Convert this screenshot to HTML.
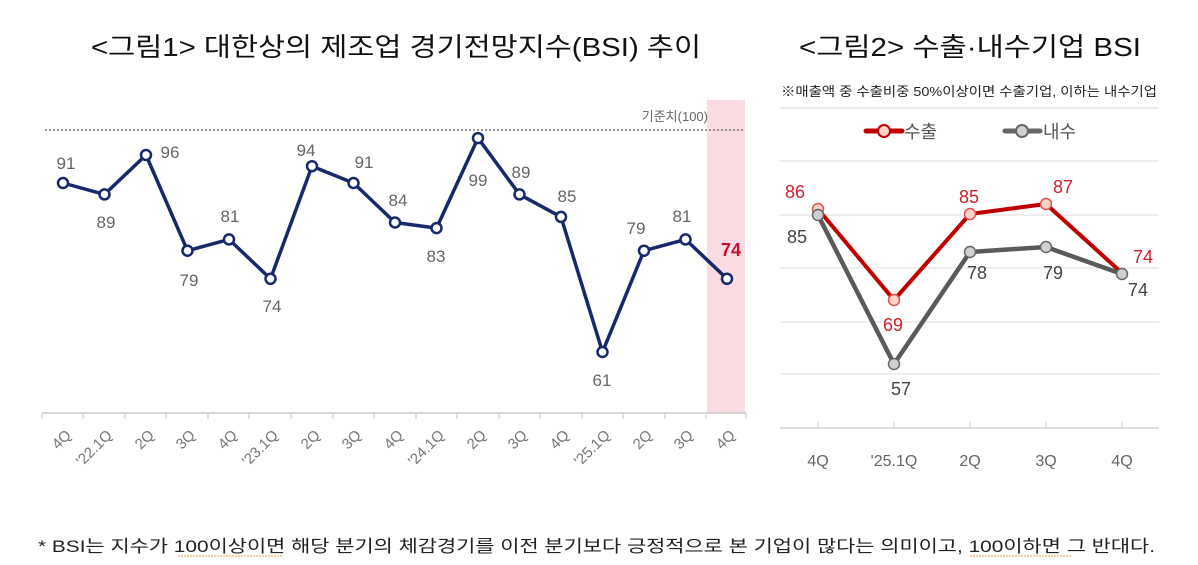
<!DOCTYPE html>
<html><head><meta charset="utf-8"><style>
body{margin:0;background:#fff;}
svg{display:block;font-family:"Liberation Sans","Noto Sans CJK KR",sans-serif;}
</style></head><body>
<svg width="1198" height="565" viewBox="0 0 1198 565">
<text x="91" y="56" font-size="26" fill="#111" textLength="610" lengthAdjust="spacingAndGlyphs">&lt;그림1&gt; 대한상의 제조업 경기전망지수(BSI) 추이</text>
<text x="799" y="56" font-size="26" fill="#111" textLength="342" lengthAdjust="spacingAndGlyphs">&lt;그림2&gt; 수출·내수기업 BSI</text>
<!-- chart1 -->
<rect x="707" y="100" width="38" height="313" fill="#f9dbe1"/>
<line x1="45" y1="130" x2="745" y2="130" stroke="#777" stroke-width="1.5" stroke-dasharray="2,2"/>
<text x="708" y="121" font-size="13" text-anchor="end" fill="#666">기준치(100)</text>
<line x1="42" y1="413" x2="746" y2="413" stroke="#ccc" stroke-width="1.5"/>
<g stroke="#ccc" stroke-width="1.2">
<line x1="42" y1="413" x2="42" y2="419"/><line x1="83" y1="413" x2="83" y2="419"/><line x1="125" y1="413" x2="125" y2="419"/><line x1="166" y1="413" x2="166" y2="419"/><line x1="208" y1="413" x2="208" y2="419"/><line x1="249" y1="413" x2="249" y2="419"/><line x1="291" y1="413" x2="291" y2="419"/><line x1="333" y1="413" x2="333" y2="419"/><line x1="374" y1="413" x2="374" y2="419"/><line x1="416" y1="413" x2="416" y2="419"/><line x1="457" y1="413" x2="457" y2="419"/><line x1="499" y1="413" x2="499" y2="419"/><line x1="540" y1="413" x2="540" y2="419"/><line x1="582" y1="413" x2="582" y2="419"/><line x1="623" y1="413" x2="623" y2="419"/><line x1="665" y1="413" x2="665" y2="419"/><line x1="706" y1="413" x2="706" y2="419"/><line x1="746" y1="413" x2="746" y2="419"/>
</g>
<g font-size="15" fill="#777" text-anchor="end">
<text transform="translate(72,436) rotate(-45)">4Q</text>
<text transform="translate(113,436) rotate(-45)">'22.1Q</text>
<text transform="translate(155,436) rotate(-45)">2Q</text>
<text transform="translate(196,436) rotate(-45)">3Q</text>
<text transform="translate(238,436) rotate(-45)">4Q</text>
<text transform="translate(279,436) rotate(-45)">'23.1Q</text>
<text transform="translate(321,436) rotate(-45)">2Q</text>
<text transform="translate(362,436) rotate(-45)">3Q</text>
<text transform="translate(404,436) rotate(-45)">4Q</text>
<text transform="translate(445,436) rotate(-45)">'24.1Q</text>
<text transform="translate(487,436) rotate(-45)">2Q</text>
<text transform="translate(528,436) rotate(-45)">3Q</text>
<text transform="translate(570,436) rotate(-45)">4Q</text>
<text transform="translate(611,436) rotate(-45)">'25.1Q</text>
<text transform="translate(653,436) rotate(-45)">2Q</text>
<text transform="translate(694,436) rotate(-45)">3Q</text>
<text transform="translate(736,436) rotate(-45)">4Q</text>
</g>
<polyline fill="none" stroke="#17296b" stroke-width="3.5" stroke-linejoin="round" points="63,183 104.5,194.4 146,155 187.5,250.7 229,239.4 270.5,278.8 312,166.2 353.5,183 395,222.5 436.5,228.1 478,138.1 519.5,194.4 561,216.9 602.5,352 644,250.7 685.5,239.4 727,278.8"/>
<g fill="#fff" stroke="#17296b" stroke-width="2.5">
<circle cx="63" cy="183" r="5"/><circle cx="104.5" cy="194.4" r="5"/><circle cx="146" cy="155" r="5"/><circle cx="187.5" cy="250.7" r="5"/><circle cx="229" cy="239.4" r="5"/><circle cx="270.5" cy="278.8" r="5"/><circle cx="312" cy="166.2" r="5"/><circle cx="353.5" cy="183" r="5"/><circle cx="395" cy="222.5" r="5"/><circle cx="436.5" cy="228.1" r="5"/><circle cx="478" cy="138.1" r="5"/><circle cx="519.5" cy="194.4" r="5"/><circle cx="561" cy="216.9" r="5"/><circle cx="602.5" cy="352" r="5"/><circle cx="644" cy="250.7" r="5"/><circle cx="685.5" cy="239.4" r="5"/><circle cx="727" cy="278.8" r="5"/>
</g>
<g font-size="17" fill="#666" text-anchor="middle">
<text x="66" y="169">91</text><text x="106" y="228">89</text><text x="170" y="158">96</text><text x="189" y="286">79</text><text x="230" y="222">81</text><text x="272" y="312">74</text><text x="306" y="156">94</text><text x="364" y="168">91</text><text x="398" y="206">84</text><text x="436" y="262">83</text><text x="478" y="186">99</text><text x="521" y="178">89</text><text x="567" y="202">85</text><text x="602" y="386">61</text><text x="636" y="234">79</text><text x="682" y="222">81</text>
<text x="731" y="256" fill="#c8102e" font-weight="bold" font-size="18">74</text>
</g>
<!-- chart2 -->
<text x="781" y="96" font-size="13" fill="#222" textLength="376" lengthAdjust="spacingAndGlyphs">※매출액 중 수출비중 50%이상이면 수출기업, 이하는 내수기업</text>
<line x1="780" y1="108" x2="1159" y2="108" stroke="#ddd" stroke-width="1.2"/>
<line x1="866" y1="131" x2="902" y2="131" stroke="#c00000" stroke-width="5" stroke-linecap="round"/>
<circle cx="884" cy="131" r="6" fill="#fcd3c8" stroke="#c00000" stroke-width="2"/>
<text x="904" y="138" font-size="18" fill="#555">수출</text>
<line x1="1005" y1="131" x2="1040" y2="131" stroke="#666" stroke-width="5" stroke-linecap="round"/>
<circle cx="1022" cy="131" r="6" fill="#d0d0d0" stroke="#666" stroke-width="2"/>
<text x="1043" y="138" font-size="18" fill="#555">내수</text>
<g stroke="#e3e3e3" stroke-width="1.2">
<line x1="780" y1="161" x2="1159" y2="161"/><line x1="780" y1="215" x2="1159" y2="215"/><line x1="780" y1="268" x2="1159" y2="268"/><line x1="780" y1="322" x2="1159" y2="322"/><line x1="780" y1="374" x2="1159" y2="374"/>
</g>
<line x1="780" y1="428" x2="1159" y2="428" stroke="#d3d3d3" stroke-width="1.5"/>
<g stroke="#ccc"><line x1="818" y1="422" x2="818" y2="428"/><line x1="894" y1="422" x2="894" y2="428"/><line x1="970" y1="422" x2="970" y2="428"/><line x1="1046" y1="422" x2="1046" y2="428"/><line x1="1122" y1="422" x2="1122" y2="428"/></g>
<g font-size="16" fill="#666" text-anchor="middle">
<text x="818" y="466">4Q</text><text x="894" y="466">'25.1Q</text><text x="970" y="466">2Q</text><text x="1046" y="466">3Q</text><text x="1122" y="466">4Q</text>
</g>
<polyline fill="none" stroke="#c00000" stroke-width="4" stroke-linejoin="round" points="818,209 894,300 970,214 1046,204 1122,273"/>
<polyline fill="none" stroke="#5a5a5a" stroke-width="4.5" stroke-linejoin="round" points="818,215 894,364 970,252 1046,247 1122,274"/>
<g fill="#fcd3c8" stroke="#e05050" stroke-width="1.5"><circle cx="818" cy="209" r="5.5"/><circle cx="894" cy="300" r="5.5"/><circle cx="970" cy="214" r="5.5"/><circle cx="1046" cy="204" r="5.5"/></g>
<g fill="#d0d0d0" stroke="#666" stroke-width="1.5"><circle cx="818" cy="215" r="5.5"/><circle cx="894" cy="364" r="5.5"/><circle cx="970" cy="252" r="5.5"/><circle cx="1046" cy="247" r="5.5"/><circle cx="1122" cy="274" r="5.5"/></g>
<g font-size="18" fill="#d0202a" text-anchor="middle">
<text x="795" y="198">86</text><text x="893" y="331">69</text><text x="969" y="203">85</text><text x="1063" y="193">87</text><text x="1143" y="263">74</text>
</g>
<g font-size="18" fill="#444" text-anchor="middle">
<text x="797" y="243">85</text><text x="901" y="395">57</text><text x="977" y="279">78</text><text x="1053" y="279">79</text><text x="1138" y="296">74</text>
</g>
<!-- footnote -->
<text x="38" y="552" font-size="17" fill="#222" textLength="1117" lengthAdjust="spacingAndGlyphs">* BSI는 지수가 100이상이면 해당 분기의 체감경기를 이전 분기보다 긍정적으로 본 기업이 많다는 의미이고, 100이하면 그 반대다.</text>
<line x1="178" y1="556" x2="282" y2="556" stroke="#f0a040" stroke-width="1" stroke-dasharray="2,1"/>
<line x1="970" y1="556" x2="1072" y2="556" stroke="#f0a040" stroke-width="1" stroke-dasharray="2,1"/>
</svg>
</body></html>
